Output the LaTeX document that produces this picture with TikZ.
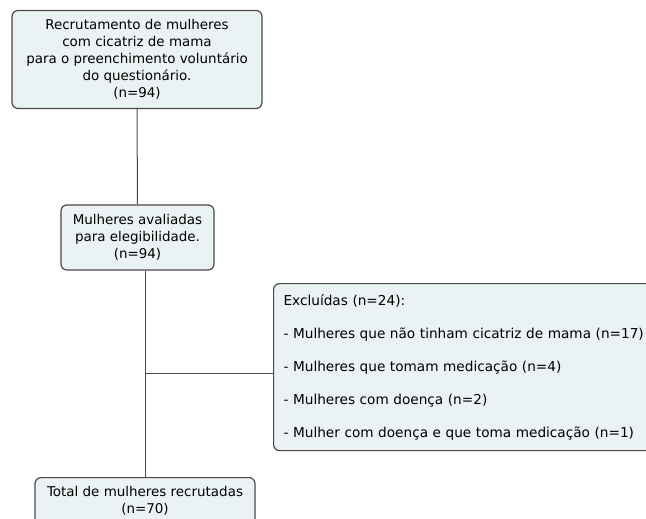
\documentclass[tikz,border=0pt]{standalone}
\usepackage{fontspec}
\setmainfont{DejaVu Sans}
\usetikzlibrary{positioning}
\definecolor{boxfill}{HTML}{EBF2F4}
\definecolor{boxline}{HTML}{4A4A4A}
\tikzstyle{link} = [draw=boxline, line width=1bp]
\tikzstyle{stepclass} = [rectangle, rounded corners=6bp, draw=boxline, line width=1.2bp, fill=boxfill, align=center, inner sep=0pt, font=\fontsize{13.5}{17}\selectfont]
\tikzstyle{exclclass} = [rectangle, rounded corners=6bp, draw=boxline, line width=1.2bp, fill=boxfill, align=left, inner xsep=10bp, inner ysep=0pt, text width=380bp, font=\fontsize{13.7}{17}\selectfont]

\begin{document}
\begin{tikzpicture}[x=1bp, y=-1bp]
	\useasboundingbox (0,0) rectangle (646,519);
	\clip (0,0) rectangle (646,519);
		\node (recr) [stepclass, minimum width=250bp, minimum height=98bp] at (137,59.5) {Recrutamento de mulheres\\
			com cicatriz de mama\\
			para o preenchimento voluntário\\
			do questionário.\\
			(n=94)};
		\node (aval) [stepclass, minimum width=153bp, minimum height=65bp] at (137.5,237.5) {Mulheres avaliadas\\
			para elegibilidade.\\
			(n=94)};
		\node (tot) [stepclass, minimum width=220bp, minimum height=61bp, anchor=north] at (145,477) {Total de mulheres recrutadas\\
			(n=70)\\ \vphantom{X}};
		\node (excl) [exclclass, minimum height=167bp, anchor=north west] at (273,283) {Excluídas (n=24):\\[16bp]
			- Mulheres que não tinham cicatriz de mama (n=17)\\[16bp]
			- Mulheres que tomam medicação (n=4)\\[16bp]
			- Mulheres com doença (n=2)\\[16bp]
			- Mulher com doença e que toma medicação (n=1)};
		\coordinate (fork) at (145,373);
	\draw [link] (recr.south) -- (aval.north);
	\draw [link] (aval.south -| tot.north) -- (tot.north);
	\draw [link] (fork) -- (fork -| excl.west);
\end{tikzpicture}
\end{document}
